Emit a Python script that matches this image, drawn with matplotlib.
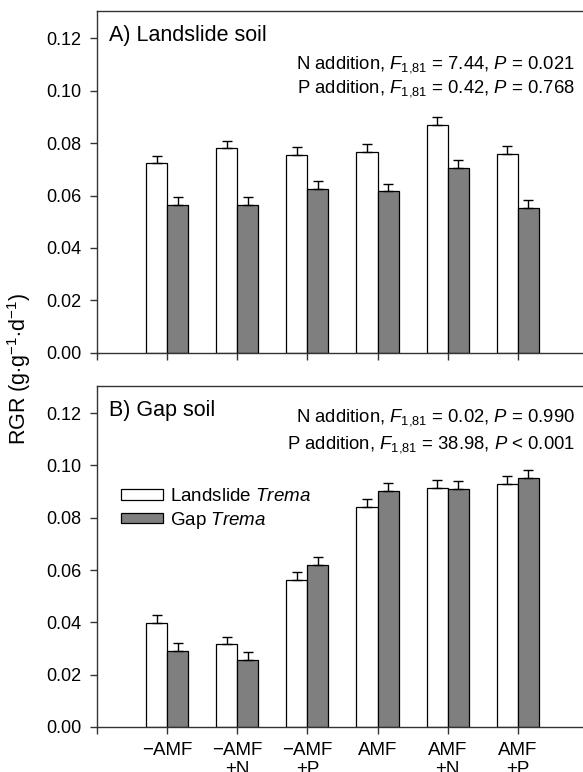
import numpy as np
import matplotlib
matplotlib.use("Agg")
import matplotlib.pyplot as plt
from matplotlib.patches import Patch

plt.rcParams['font.family'] = ['Liberation Sans', 'DejaVu Sans']
plt.rcParams['mathtext.fontset'] = 'custom'
plt.rcParams['mathtext.rm'] = 'Liberation Sans'
plt.rcParams['mathtext.it'] = 'Liberation Sans:italic'

# treatments
labels = ["\u2212AMF", "\u2212AMF\n+N", "\u2212AMF\n+P", "AMF", "AMF\n+N", "AMF\n+P"]

# A) landslide soil
land_A = [0.0724, 0.0781, 0.0754, 0.0766, 0.0870, 0.0759]
land_A_se = [0.0029, 0.0029, 0.0031, 0.0030, 0.0029, 0.0031]
gap_A = [0.0564, 0.0565, 0.0625, 0.0616, 0.0705, 0.0554]
gap_A_se = [0.0030, 0.0031, 0.0032, 0.0030, 0.0032, 0.0030]

# B) gap soil
land_B = [0.0398, 0.0316, 0.0562, 0.0842, 0.0914, 0.0930]
land_B_se = [0.0031, 0.0030, 0.0030, 0.0031, 0.0031, 0.0029]
gap_B = [0.0292, 0.0257, 0.0619, 0.0903, 0.0909, 0.0952]
gap_B_se = [0.0030, 0.0031, 0.0030, 0.0030, 0.0031, 0.0031]

stats_A = [r"N addition, $\it{F}_{1{,}81}$ = 7.44, $\it{P}$ = 0.021",
           r"P addition, $\it{F}_{1{,}81}$ = 0.42, $\it{P}$ = 0.768"]
stats_B = [r"N addition, $\it{F}_{1{,}81}$ = 0.02, $\it{P}$ = 0.990",
           r"P addition, $\it{F}_{1{,}81}$ = 38.98, $\it{P}$ < 0.001"]

gray = "#7f7f7f"
w = 0.3
x = np.arange(1, len(labels) + 1)

fig = plt.figure(figsize=(5.83, 7.72), dpi=100)
axA = fig.add_axes([0.1664, 0.5431, 0.842, 0.4427])
axB = fig.add_axes([0.1664, 0.0583, 0.842, 0.4421])


def draw(ax, land, land_se, gap, gap_se, title, stats, ys):
    ax.bar(x - w / 2, land, w, color="white", edgecolor="black", linewidth=0.9,
           yerr=[np.zeros(len(land)), land_se], error_kw=dict(elinewidth=1, capsize=3.5, capthick=1))
    ax.bar(x + w / 2, gap, w, color=gray, edgecolor="black", linewidth=0.9,
           yerr=[np.zeros(len(gap)), gap_se], error_kw=dict(elinewidth=1, capsize=3.5, capthick=1))
    ax.set_xlim(0, 7)
    ax.set_ylim(0, 0.1305)
    ax.set_yticks(np.arange(0, 0.121, 0.02))
    ax.set_yticklabels(["%.2f" % v for v in np.arange(0, 0.121, 0.02)], fontsize=13)
    ax.tick_params(axis="both", direction="out", length=5, width=1, color="#333333")
    ax.tick_params(axis="y", pad=6.5)
    ax.tick_params(axis="x", pad=5.5)
    for s in ax.spines.values():
        s.set_linewidth(1)
        s.set_color("#333333")
    ax.text(0.025, 0.912, title, transform=ax.transAxes, fontsize=15.5, va="baseline", ha="left")
    ax.text(0.974, ys[0], stats[0], transform=ax.transAxes, fontsize=13.3, va="baseline", ha="right")
    ax.text(0.974, ys[1], stats[1], transform=ax.transAxes, fontsize=13.3, va="baseline", ha="right")


draw(axA, land_A, land_A_se, gap_A, gap_A_se, "A) Landslide soil", stats_A, (0.833, 0.760))
draw(axB, land_B, land_B_se, gap_B, gap_B_se, "B) Gap soil", stats_B, (0.894, 0.817))

axA.set_xticks(np.r_[0, x])
axA.set_xticklabels([])
axB.set_xticks(np.r_[0, x])
axB.set_xticklabels([""] + labels, fontsize=13.5, linespacing=1.15)

handles = [Patch(facecolor="white", edgecolor="black", linewidth=0.9),
           Patch(facecolor=gray, edgecolor="black", linewidth=0.9)]
axB.legend(handles, ["Landslide $\\it{Trema}$", "Gap $\\it{Trema}$"], loc="upper left",
           bbox_to_anchor=(0.048, 0.700), frameon=False, fontsize=13.5,
           handlelength=2.24, handleheight=0.5, handletextpad=0.37, labelspacing=0.25,
           borderaxespad=0, borderpad=0)

fig.text(0.033, 1 - 369 / 772, r"RGR (g$\cdot$g$^{-1}$$\cdot$d$^{-1}$)", rotation=90,
         fontsize=15.5, ha="center", va="center")

fig.savefig("out.png", dpi=100)
